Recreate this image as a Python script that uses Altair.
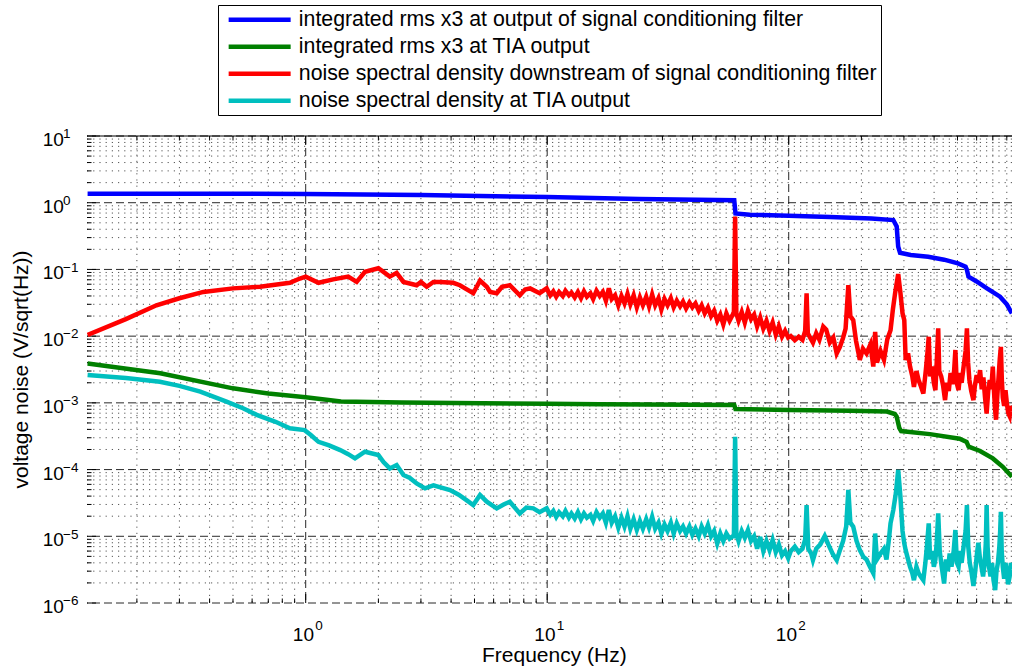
import altair as alt
import pandas as pd

FONT = "Liberation Sans"
W, H = 925, 467
X_DOMAIN = [0.1243, 840.6]
Y_DOMAIN = [1e-6, 10]

series_names = [
    "integrated rms x3 at output of signal conditioning filter",
    "integrated rms x3 at TIA output",
    "noise spectral density downstream of signal conditioning filter",
    "noise spectral density at TIA output",
]
series_colors = ["#0000FF", "#008000", "#FF0000", "#00BFBF"]
x_title = "Frequency (Hz)"
y_title = "voltage noise (V/sqrt(Hz))"

blue_f = [0.125, 0.5, 1, 3, 10, 24, 59.5, 60.2, 69, 100, 148, 220, 271, 280, 284, 289,
          320, 378, 440, 502, 540, 547, 555, 600, 662, 750, 800, 840]
blue_v = [1.36, 1.36, 1.35, 1.30, 1.22, 1.14, 1.09, 0.69, 0.66, 0.64, 0.61, 0.58, 0.55, 0.44, 0.22, 0.178,
          0.165, 0.155, 0.14, 0.123, 0.11, 0.098, 0.078, 0.066, 0.052, 0.039, 0.03, 0.022]

green_f = [0.125, 0.25, 0.5, 0.7, 1, 1.4, 2.5, 10, 16.5, 59.5, 60.2, 100, 180, 255, 275, 280,
           287, 292, 384, 510, 545, 556, 620, 700, 770, 840]
green_v = [0.0039, 0.00277, 0.00165, 0.00138, 0.00121, 0.00105, 0.00101, 0.00097, 0.00095, 0.00093,
           0.00081, 0.00078, 0.00076, 0.00074, 0.00068, 0.00062, 0.00042, 0.000378, 0.00034, 0.00029,
           0.00026, 0.00022, 0.00019, 0.000147, 0.00011, 0.000078]

# spectral densities: low band (< 10 Hz), mid band (10-100 Hz), high band (> 100 Hz)
red_f_lo = [0.125, 0.18, 0.241, 0.3, 0.377, 0.5, 0.647, 0.86, 0.946, 1.0,
            1.13, 1.3, 1.5, 1.626, 1.76, 2.0, 2.23, 2.38, 2.54, 2.88,
            3.0, 3.17, 3.38, 3.6, 4.08, 4.35, 4.94, 5.27, 5.62, 5.8,
            6.18, 6.5, 7.0, 7.7, 8.1, 8.5, 9.3, 9.95]
red_v_lo = [0.0104, 0.018, 0.029, 0.037, 0.046, 0.052, 0.055, 0.063, 0.073, 0.078,
            0.063, 0.071, 0.078, 0.065, 0.092, 0.104, 0.078, 0.089, 0.065, 0.058,
            0.065, 0.055, 0.065, 0.065, 0.063, 0.058, 0.044, 0.068, 0.055, 0.046,
            0.044, 0.055, 0.058, 0.041, 0.05, 0.052, 0.044, 0.052]

mid_f = [10.3, 10.6, 10.9, 11.2, 11.6, 11.9, 12.3, 12.6, 13.0, 13.4,
         13.8, 14.2, 14.6, 15.1, 15.5, 16.0, 16.5, 17.0, 17.5, 18.0,
         18.5, 19.1, 19.7, 20.3, 20.9, 21.5, 22.1, 22.8, 23.5, 24.2,
         24.9, 25.7, 26.4, 27.2, 28.0, 28.9, 29.7, 30.6, 31.5, 32.5,
         33.4, 34.4, 35.5, 36.5, 37.6, 38.8, 39.9, 41.1, 42.4, 43.6,
         44.9, 46.3, 47.7, 49.1, 50.6, 52.1, 53.6, 55.2, 56.9, 58.6,
         59.3, 60, 60.7,
         62, 63.9, 65.8, 67.8, 69.8, 71.9, 74.0, 76.2, 78.5, 80.9, 83.3, 85.8, 88.4, 91.0, 93.8, 96.6, 99.5]
red_v_mid = [0.041, 0.047, 0.039, 0.046, 0.040, 0.048, 0.041, 0.045, 0.038, 0.046,
             0.037, 0.047, 0.039, 0.044, 0.036, 0.048, 0.040, 0.046, 0.034, 0.052,
             0.036, 0.041, 0.029, 0.040, 0.031, 0.043, 0.030, 0.041, 0.027, 0.038,
             0.029, 0.039, 0.028, 0.042, 0.029, 0.037, 0.025, 0.036, 0.029, 0.037,
             0.027, 0.034, 0.028, 0.033, 0.026, 0.032, 0.027, 0.031, 0.024, 0.029,
             0.022, 0.027, 0.020, 0.024, 0.017, 0.021, 0.015, 0.022, 0.017, 0.021,
             0.023, 0.62, 0.022,
             0.017, 0.023, 0.016, 0.024, 0.018, 0.021, 0.014, 0.019, 0.013, 0.017, 0.012, 0.016,
             0.0105, 0.014, 0.0098, 0.012, 0.0095]

red_f_hi = [102, 106, 110, 114, 117, 118.6, 120, 122.7, 126, 130, 134,
            139, 143, 148, 153, 158, 163, 168, 172, 176.6, 180,
            185, 190, 197, 203, 210, 218, 224, 228, 232, 240,
            248, 256, 264, 270, 276, 284, 290, 296, 301, 305,
            312, 318, 325, 330, 338, 345, 352, 361, 370, 376,
            380, 385, 392, 399, 405, 410, 416, 420, 428, 436,
            444, 452, 460, 468, 476, 484, 490, 496, 505, 513,
            520, 530, 540, 547, 553, 560, 570, 582, 590, 600,
            610, 620, 630, 640, 650, 660, 670, 680, 690, 700,
            708, 715, 722, 730, 740, 748, 756, 763, 770, 780,
            790, 800, 811, 822, 832, 840]
red_v_hi = [0.010, 0.0087, 0.0098, 0.0088, 0.012, 0.044, 0.011, 0.0095, 0.0080, 0.011, 0.0088,
            0.0139, 0.0125, 0.0080, 0.0095, 0.0055, 0.0069, 0.0095, 0.013, 0.058, 0.020,
            0.0174, 0.0085, 0.0044, 0.0065, 0.0055, 0.0075, 0.0035, 0.0116, 0.0040, 0.0060,
            0.0044, 0.0090, 0.0123, 0.025, 0.045, 0.085, 0.045, 0.022, 0.0174, 0.0044,
            0.0055, 0.0035, 0.0025, 0.00174, 0.0030, 0.0022, 0.0018, 0.00138, 0.0032, 0.0060,
            0.0098, 0.0025, 0.0035, 0.0020, 0.00155, 0.0040, 0.0131, 0.0030, 0.0025, 0.0018,
            0.0011, 0.0020, 0.0015, 0.0028, 0.0019, 0.0030, 0.0062, 0.0020, 0.00155, 0.0028,
            0.0020, 0.0035, 0.0060, 0.0131, 0.0040, 0.0022, 0.0015, 0.0011, 0.0018, 0.0026,
            0.0020, 0.0031, 0.0016, 0.0024, 0.0012, 0.00069, 0.0015, 0.0022, 0.0016, 0.0035,
            0.0015, 0.0008, 0.00056, 0.0012, 0.0025, 0.0045, 0.0069, 0.0022, 0.0012, 0.0009,
            0.00155, 0.0010, 0.0007, 0.00063, 0.0009, 0.00075]

cyan_f_lo = [0.125, 0.18, 0.249, 0.3, 0.366, 0.47, 0.55, 0.627, 0.75, 0.86,
             0.99, 1.05, 1.13, 1.25, 1.39, 1.5, 1.6, 1.76, 2.0, 2.1,
             2.23, 2.38, 2.54, 2.7, 2.88, 3.12, 3.38, 3.96, 4.3, 4.63,
             4.94, 5.27, 5.62, 6.18, 6.6, 7.0, 7.7, 8.2, 8.76, 9.3, 9.95]
cyan_v_lo = [0.00261, 0.00235, 0.00207, 0.00180, 0.00147, 0.00104, 0.00083, 0.00066, 0.00052, 0.000415,
             0.00039, 0.00033, 0.00026, 0.00023, 0.000196, 0.00017, 0.000147, 0.000185, 0.000165, 0.00013,
             0.000104, 0.000117, 0.0000827, 0.000075, 0.000062, 0.0000523, 0.000058, 0.0000493, 0.000042, 0.0000349,
             0.0000294, 0.0000417, 0.000033, 0.0000262, 0.00003, 0.000033, 0.000022, 0.000027, 0.0000262, 0.000023,
             0.0000262]

cyan_v_mid = [0.000021, 0.000024, 0.0000195, 0.000023, 0.000020, 0.000024, 0.000019, 0.000022, 0.0000185, 0.000023,
              0.000018, 0.000022, 0.000019, 0.000021, 0.000017, 0.000023, 0.000019, 0.000022, 0.000016, 0.0000247,
              0.000016, 0.000020, 0.0000135, 0.000019, 0.000014, 0.000020, 0.000013, 0.000018, 0.0000125, 0.000017,
              0.000013, 0.000018, 0.0000135, 0.0000196, 0.000013, 0.000016, 0.000011, 0.000015, 0.000012, 0.000016,
              0.000011, 0.0000156, 0.000012, 0.000014, 0.000011, 0.000014, 0.0000105, 0.000013, 0.000010, 0.000014,
              0.000011, 0.0000147, 0.000010, 0.000012, 0.0000078, 0.000011, 0.0000085, 0.000011, 0.0000092, 0.000010,
              0.000010, 0.00031, 0.000011,
              0.0000085, 0.000012, 0.0000095, 0.0000124, 0.0000085, 0.000010, 0.0000065, 0.0000098, 0.000006,
              0.0000085, 0.0000062, 0.0000088, 0.0000058, 0.0000075, 0.0000052, 0.000006, 0.0000047]

cyan_f_hi = [102, 106, 110, 114, 117, 118.6, 120.5, 124,
             126, 130, 135, 141, 146, 152, 158, 163, 168, 173,
             176.6, 180, 185, 191, 197, 204, 210, 217, 224, 228,
             232, 240, 248, 254, 260, 264, 271, 278, 284, 290,
             296, 301, 305, 312, 318, 325, 330, 338, 345, 352,
             361, 368, 374, 380, 385, 392, 399, 405, 410, 416,
             422, 430, 440, 448, 456, 464, 472, 482, 490, 497,
             505, 513, 520, 530, 540, 547, 554, 562, 572, 582,
             592, 602, 610, 618, 628, 638, 648, 655, 660, 666,
             675, 685, 695, 705, 716, 725, 735, 745, 751, 756,
             762, 770, 780, 790, 800, 810, 822, 832, 840]
cyan_v_hi = [0.000006, 0.000007, 0.0000058, 0.0000065, 0.000009, 0.0000294, 0.0000065, 0.0000055,
             0.0000044, 0.0000065, 0.0000075, 0.0000101, 0.0000075, 0.0000055, 0.0000044, 0.0000062, 0.0000085, 0.000014,
             0.0000498, 0.000016, 0.0000139, 0.0000085, 0.0000062, 0.0000049, 0.0000045, 0.0000035, 0.0000028, 0.000011,
             0.0000045, 0.0000055, 0.0000065, 0.0000045, 0.000009, 0.0000156, 0.0000247, 0.000045, 0.0000984, 0.00004,
             0.000012, 0.0000078, 0.0000062, 0.0000045, 0.0000035, 0.0000028, 0.0000022, 0.0000035, 0.0000028, 0.0000025,
             0.0000022, 0.000004, 0.0000075, 0.0000156, 0.0000045, 0.000006, 0.0000035, 0.0000045, 0.000008, 0.000022,
             0.000006, 0.0000035, 0.00000196, 0.0000045, 0.000003, 0.0000055, 0.0000035, 0.000006, 0.0000124, 0.000004,
             0.0000035, 0.000006, 0.000004, 0.000007, 0.000012, 0.0000294, 0.000007, 0.000004, 0.0000028, 0.0000018,
             0.000003, 0.0000055, 0.000008, 0.000005, 0.0000035, 0.0000025, 0.000004, 0.000008, 0.0000294, 0.000007,
             0.0000035, 0.0000025, 0.000004, 0.0000022, 0.00000156, 0.000003, 0.000004, 0.000007, 0.000012, 0.0000233,
             0.000006, 0.0000035, 0.0000023, 0.000004, 0.000003, 0.0000019, 0.0000025, 0.000004, 0.0000032]

red_f = red_f_lo + mid_f + red_f_hi
red_v = red_v_lo + red_v_mid + red_v_hi
cyan_f = cyan_f_lo + mid_f + cyan_f_hi
cyan_v = cyan_v_lo + cyan_v_mid + cyan_v_hi
for a, b in [(blue_f, blue_v), (green_f, green_v), (red_f, red_v), (cyan_f, cyan_v)]:
    assert len(a) == len(b), (len(a), len(b))

# tick / grid definitions
x_major = [1, 10, 100]
x_major_exp = ["0", "1", "2"]
x_minor = [m * 10.0 ** k for k in (-1, 0, 1, 2) for m in range(2, 10)
           if X_DOMAIN[0] < m * 10.0 ** k < X_DOMAIN[1]]
y_major = [10.0 ** k for k in range(1, -7, -1)]
y_major_exp = ["1", "0", "\u22121", "\u22122", "\u22123", "\u22124", "\u22125", "\u22126"]
y_minor = [m * 10.0 ** k for k in range(-6, 1) for m in range(2, 10)]

rows = []
for name, fs, vs in zip(series_names, [blue_f, green_f, red_f, cyan_f],
                        [blue_v, green_v, red_v, cyan_v]):
    for i, (f, v) in enumerate(zip(fs, vs)):
        rows.append({"series": name, "f": f, "v": v, "i": i})
df = pd.DataFrame(rows)

xs = alt.Scale(type="log", domain=X_DOMAIN, nice=False)
ys = alt.Scale(type="log", domain=Y_DOMAIN, nice=False)

xmaj_df = pd.DataFrame({"gx": x_major, "exp": x_major_exp})
xmin_df = pd.DataFrame({"gx": x_minor})
ymaj_df = pd.DataFrame({"gy": y_major, "exp": y_major_exp})
ymin_df = pd.DataFrame({"gy": y_minor})
title_df = pd.DataFrame({"xt": [x_title], "yt": [y_title]})

GX = lambda: alt.X("gx:Q", scale=xs, axis=None)
GY = lambda: alt.Y("gy:Q", scale=ys, axis=None)

MINOR_DASH = [1.2, 5]
grid_minor_x = alt.Chart(xmin_df).mark_rule(color="#444444", strokeWidth=0.9, strokeDash=MINOR_DASH).encode(x=GX())
grid_minor_y = alt.Chart(ymin_df).mark_rule(color="#444444", strokeWidth=0.9, strokeDash=MINOR_DASH).encode(y=GY())
grid_major_x = alt.Chart(xmaj_df).mark_rule(color="#111111", strokeWidth=0.9, strokeDash=[8, 4]).encode(x=GX())
grid_major_y = alt.Chart(ymaj_df).mark_rule(color="#111111", strokeWidth=0.9, strokeDash=[8, 4]).encode(y=GY())

MAJ, MIN = 9, 4.5
tick_x_bot_maj = alt.Chart(xmaj_df).mark_rule(color="black").encode(x=GX(), y=alt.value(H), y2=alt.value(H - MAJ))
tick_x_bot_min = alt.Chart(xmin_df).mark_rule(color="black").encode(x=GX(), y=alt.value(H), y2=alt.value(H - MIN))
tick_x_top_maj = alt.Chart(xmaj_df).mark_rule(color="black").encode(x=GX(), y=alt.value(0), y2=alt.value(MAJ))
tick_x_top_min = alt.Chart(xmin_df).mark_rule(color="black").encode(x=GX(), y=alt.value(0), y2=alt.value(MIN))
tick_y_maj = alt.Chart(ymaj_df).mark_rule(color="black").encode(y=GY(), x=alt.value(0), x2=alt.value(MAJ))
tick_y_min = alt.Chart(ymin_df).mark_rule(color="black").encode(y=GY(), x=alt.value(0), x2=alt.value(MIN))

frame_top = alt.Chart(xmaj_df.head(1)).mark_rule(color="black", strokeWidth=1).encode(
    x=alt.value(0), x2=alt.value(W), y=alt.value(0))

lines = alt.Chart(df).mark_line(strokeWidth=4.5, clip=True).encode(
    x=alt.X("f:Q", scale=xs, axis=alt.Axis(
        title=None, labels=False, ticks=False, grid=False, domain=True,
        domainColor="black", domainWidth=1)),
    y=alt.Y("v:Q", scale=ys, axis=alt.Axis(
        title=None, labels=False, ticks=False, grid=False, domain=True,
        domainColor="black", domainWidth=1)),
    color=alt.Color("series:N", scale=alt.Scale(domain=series_names, range=series_colors),
                    legend=alt.Legend(
                        orient="none", legendX=131, legendY=-131, title=None,
                        direction="vertical", symbolType="M-15.5,0H15.5", symbolSize=16,
                        symbolStrokeWidth=4.5, symbolOffset=27, labelOffset=28.5,
                        labelFont=FONT, labelFontSize=21.3, labelColor="black",
                        labelLimit=900, padding=4, rowPadding=5,
                        strokeColor="black", fillColor="white", cornerRadius=0)),
    order=alt.Order("i:Q"),
)

xtitle = alt.Chart(title_df).mark_text(align="center", baseline="alphabetic", font=FONT,
                                       fontSize=21, color="black").encode(
    x=alt.value(467.3), y=alt.value(H + 59), text="xt:N")
ytitle = alt.Chart(title_df).mark_text(align="center", baseline="alphabetic", font=FONT,
                                       fontSize=21, color="black", angle=270).encode(
    x=alt.value(-59), y=alt.value(H / 2), text="yt:N")

ylab10 = alt.Chart(ymaj_df).mark_text(text="10", align="left", baseline="alphabetic",
                                      font=FONT, fontSize=19, color="black", dy=10).encode(
    x=alt.value(-44.3), y=GY())
ylabexp = alt.Chart(ymaj_df).mark_text(align="left", baseline="alphabetic", font=FONT,
                                       fontSize=13.5, color="black", dy=2.3).encode(
    x=alt.value(-24), y=GY(), text="exp:N")
xlab10 = alt.Chart(xmaj_df).mark_text(text="10", align="right", baseline="alphabetic",
                                      font=FONT, fontSize=19, color="black", dx=8.3).encode(
    x=GX(), y=alt.value(H + 38))
xlabexp = alt.Chart(xmaj_df).mark_text(align="left", baseline="alphabetic", font=FONT,
                                       fontSize=13.5, color="black", dx=9.5).encode(
    x=GX(), y=alt.value(H + 27), text="exp:N")

chart = alt.layer(
    grid_minor_x, grid_minor_y, grid_major_x, grid_major_y,
    tick_x_bot_maj, tick_x_bot_min, tick_x_top_maj, tick_x_top_min, tick_y_maj, tick_y_min,
    lines, frame_top, xtitle, ytitle, ylab10, ylabexp, xlab10, xlabexp,
).properties(
    width=W, height=H,
    padding={"left": 87, "top": 136, "right": 0, "bottom": 67},
    autosize=alt.AutoSizeParams(type="none"),
    background="white",
).configure_view(stroke=None)

chart.save("out.html", embed_options={"renderer": "svg", "actions": False})
